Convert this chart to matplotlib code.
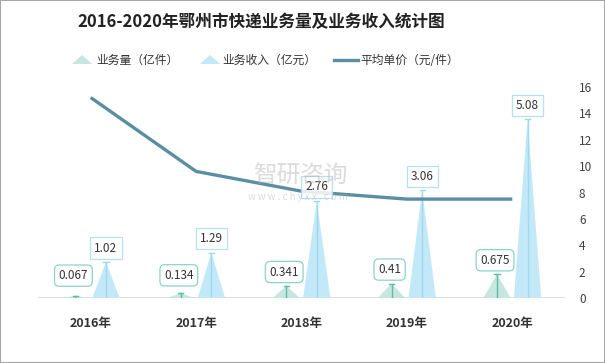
import numpy as np
import matplotlib.pyplot as plt
from matplotlib.patches import Polygon, Rectangle
from matplotlib.lines import Line2D

plt.rcParams['font.family'] = ['Noto Sans CJK SC', 'DejaVu Sans']

# 数据
years = ['2016年', '2017年', '2018年', '2019年', '2020年']
volume = [0.067, 0.134, 0.341, 0.41, 0.675]      # 业务量（亿件）
revenue = [1.02, 1.29, 2.76, 3.06, 5.08]         # 业务收入（亿元）
price = [15.2, 9.6, 8.1, 7.5, 7.5]               # 平均单价（元/件）
right_ticks = [0, 2, 4, 6, 8, 10, 12, 14, 16]

green_fill = '#c6e7df'
green_line = '#5fbaa8'
green_edge = '#8fd3c5'
blue_fill = '#c3e9f9'
blue_line = '#9fd9f0'
blue_edge = '#a8dcf2'
price_color = '#5a8ea3'

fig = plt.figure(figsize=(6.05, 3.63), dpi=100)
ax = fig.add_axes([38 / 605, 1 - 298 / 363, 527 / 605, 211 / 363])
ax2 = ax.twinx()

x = np.arange(len(years))
off = 0.145
half = 0.13

def draw_peak(cx, h, fill, lc):
    tri = Polygon([[cx - half, 0], [cx, h], [cx + half, 0]], closed=True,
                  facecolor=fill, edgecolor='none', zorder=2)
    ax.add_patch(tri)
    ax.plot([cx, cx], [0, h], color=lc, lw=1, zorder=3)
    ax.plot([cx - 0.025, cx + 0.025], [h, h], color=lc, lw=1, zorder=3)

for i in range(len(years)):
    draw_peak(x[i] - off, volume[i], green_fill, green_line)
    draw_peak(x[i] + off, revenue[i], blue_fill, blue_line)

ax.set_xlim(-0.5, len(years) - 0.5)
ax.set_ylim(0, 6)
ax.axhline(0, color='#d9d9d9', lw=1.2, zorder=1)
ax.set_yticks([])
ax.set_xticks(x)
ax.set_xticklabels(years, fontsize=9, fontweight='bold', color='#333333')
ax.tick_params(axis='x', length=0, pad=14)
for s in ax.spines.values():
    s.set_visible(False)

ax2.plot(x, price, color=price_color, lw=2.4, zorder=4, solid_capstyle='butt')
ax2.set_ylim(0, 16)
ax2.set_yticks(right_ticks)
ax2.set_yticklabels([str(t) for t in right_ticks], fontsize=8.5, color='#404040')
ax2.tick_params(axis='y', length=0, pad=10)
for s in ax2.spines.values():
    s.set_visible(False)

# 数据标签
for i in range(len(years)):
    ax2.annotate(str(volume[i]), xy=(x[i] - off, volume[i]), xycoords=ax.transData,
                 xytext=(-2, max(14, 22 - volume[i] * 30)), textcoords='offset pixels',
                 ha='center', va='center', fontsize=8.5, color='#333333', zorder=6,
                 bbox=dict(boxstyle='round,pad=0.35,rounding_size=0.4', fc='white',
                           ec=green_edge, lw=0.9))
    ax2.annotate(str(revenue[i]), xy=(x[i] + off, revenue[i]), xycoords=ax.transData,
                 xytext=(0, 14), textcoords='offset pixels',
                 ha='center', va='center', fontsize=8.5, color='#333333', zorder=6,
                 bbox=dict(boxstyle='square,pad=0.35', fc='white', alpha=0.85,
                           ec=blue_edge, lw=0.9))

# 标题
fig.text(261 / 605, 1 - 22 / 363, '2016-2020年鄂州市快递业务量及业务收入统计图',
         ha='center', va='center', fontsize=12, fontweight='bold', color='#222222')

# 图例
ly = 1 - 60 / 363
def legend_tri(x0, fill):
    fig.patches.append(Polygon([[x0 / 605, ly - 4 / 363], [(x0 + 10) / 605, ly + 5 / 363],
                                [(x0 + 20) / 605, ly - 4 / 363]], closed=True,
                               transform=fig.transFigure, facecolor=fill, edgecolor='none'))
legend_tri(72, green_fill)
fig.text(96 / 605, ly, '业务量（亿件）', ha='left', va='center', fontsize=8.5, color='#333333')
legend_tri(200, blue_fill)
fig.text(222 / 605, ly, '业务收入（亿元）', ha='left', va='center', fontsize=8.5, color='#333333')
fig.lines.append(Line2D([334 / 605, 358 / 605], [ly, ly], transform=fig.transFigure,
                        color=price_color, lw=2.4))
fig.text(360 / 605, ly, '平均单价（元/件）', ha='left', va='center', fontsize=8.5, color='#333333')

# 水印
fig.text(300 / 605, 1 - 176 / 363, '智研咨询', ha='center', va='center', fontsize=17,
         color='#b0b0b0', alpha=0.45, zorder=0)
fig.text(298 / 605, 1 - 197 / 363, 'w w w . c h y x x . c o m', ha='center', va='center',
         fontsize=7, color='#b0b0b0', alpha=0.45, zorder=0)

# 边框
fig.patches.append(Rectangle((0, 0), 1, 1, transform=fig.transFigure, fill=False,
                             edgecolor='#a6a6a6', lw=1.5))

fig.savefig('out.png', dpi=100)
